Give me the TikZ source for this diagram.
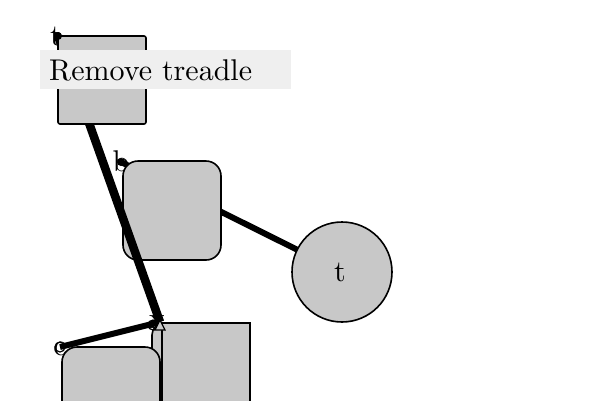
\documentclass[tikz,border=0pt]{standalone}
\begin{document}
\definecolor{nodegray}{RGB}{200,200,200}
\definecolor{labelgray}{RGB}{239,239,239}
\newcommand{\bigtxt}[1]{\scalebox{3.0}{#1}}
\begin{tikzpicture}[x=1pt,y=-1pt,
  box/.style={draw=black,line width=1.6pt,fill=nodegray,inner sep=0pt,outer sep=0pt,anchor=north west},
  edgeline/.style={draw=black,line cap=butt}]
\useasboundingbox (0,0) rectangle (600,400);
\clip (0,0) rectangle (600,400);
% corner coordinates
\coordinate (tc) at (58,36);
\coordinate (bc) at (121,162);
\coordinate (cc) at (60,347);
\coordinate (xc) at (160,322);
\coordinate (tcen) at (342,272);
% letters
\node[inner sep=0pt] (tl) at (56,36) {\bigtxt{t}};
\node[inner sep=0pt] (bl) at (121,161) {\bigtxt{b}};
\node[inner sep=0pt] (cl) at (60,349) {\bigtxt{c}};
\node[inner sep=0pt] (xl) at (157,322) {\bigtxt{x}};
% edge b - t
\draw[edgeline,line width=6pt] (bc) -- (tcen);
% node b
\node[box,rounded corners=15pt,minimum width=98pt,minimum height=99pt] (b) at (123,161) {};
% circle t
\node[draw=black,line width=1.6pt,fill=nodegray,circle,minimum size=100pt,inner sep=0pt] (t) at (tcen) {};
\node[inner sep=0pt] (tt) at (340,272) {\bigtxt{t}};
% edge t - x
\draw[edgeline,line width=8.5pt] (tc) -- (xc);
% bottom nodes
\node[box,rounded corners=12pt,minimum width=96pt,minimum height=100pt] (xr) at (152,323) {};
\node[box,minimum width=88pt,minimum height=100pt] (xs) at (162,323) {};
\node[box,rounded corners=15pt,minimum width=98pt,minimum height=80pt] (c) at (62,347) {};
% edge c - x
\draw[edgeline,line width=6pt] (cc) -- (xc);
% top node
\node[box,rounded corners=2pt,minimum width=88pt,minimum height=88pt] (top) at (58,36) {};
% label
\fill[labelgray] (40,50) rectangle (291,89);
\node[anchor=west,inner sep=0pt] (lab) at (49,70) {\bigtxt{Remove treadle}};
% markers
\fill[black] (tc) circle (4);
\fill[black] (bc) circle (4);
\draw[black,line width=1.2pt] (cc) circle (5);
\draw[black,line width=1.2pt] (153,325) circle (5);
\draw[black,line width=1.2pt,fill=nodegray] (xc) +(-5,8) -- +(0,-2) -- +(5,8) -- cycle;
\end{tikzpicture}
\end{document}
